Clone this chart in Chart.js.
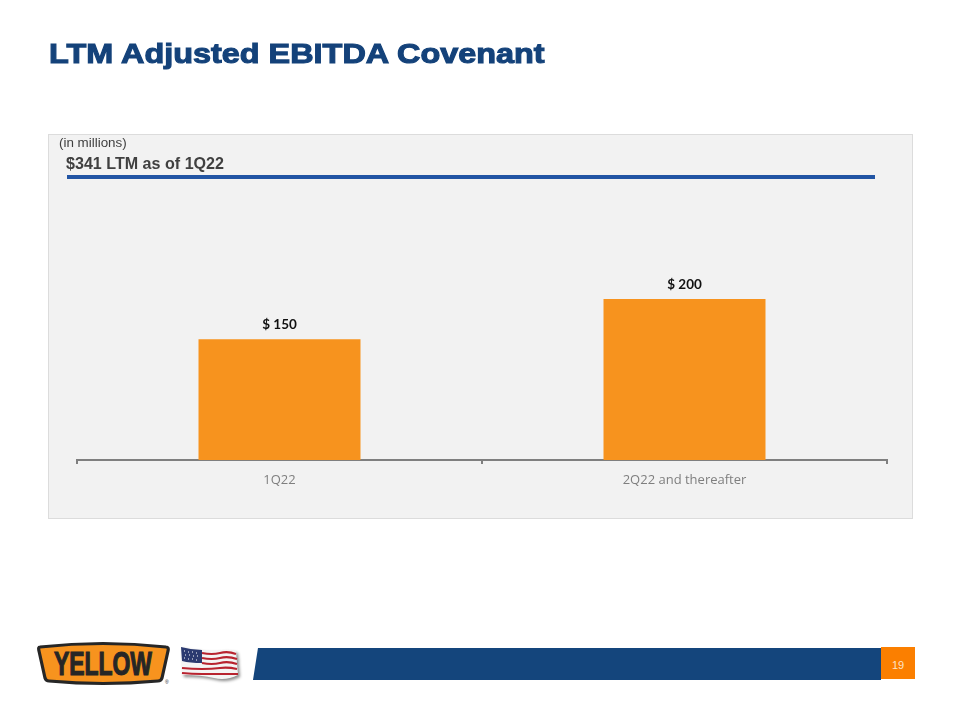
<!DOCTYPE html>
<html>
<head>
<meta charset="utf-8">
<title>LTM Adjusted EBITDA Covenant</title>
<script src="https://cdn.jsdelivr.net/npm/chart.js@4"></script>
<style>
  html, body { margin: 0; padding: 0; background: #fff; }
  #page { position: relative; width: 960px; height: 720px; overflow: hidden; font-family: "Liberation Sans", Arial, sans-serif; }
  #page > * { position: absolute; }
  #title { left: 49px; top: 35px; font-size: 28.5px; line-height: 36px; font-weight: bold; color: #14427a; -webkit-text-stroke: 1.1px #14427a; white-space: nowrap; transform: scaleX(1.137); transform-origin: left top; }
  #panel { left: 48px; top: 134px; width: 863px; height: 383px; background: #f2f2f2; border: 1px solid #dcdcdc; }
  #wrap { left: 48px; top: 135px; width: 865px; height: 384px; }
  #units { left: 59px; top: 135px; font-size: 13.4px; line-height: 16px; color: #404040; }
  #ltm { left: 66px; top: 154px; font-size: 16.1px; line-height: 18px; font-weight: bold; color: #404040; }
  #rule { left: 67px; top: 175px; width: 808px; height: 4px; background: #2255a4; }
  #bar { left: 253px; top: 648px; width: 628px; height: 32px; background: #14457c; clip-path: polygon(5px 0, 100% 0, 100% 100%, 0 100%); }
  #num { left: 881px; top: 647px; width: 34px; height: 32px; background: #fb7f00; color: #fbe3c8; font-size: 11px; line-height: 36px; text-align: center; }
  #logo { left: 36px; top: 639px; }
  #flag { left: 180px; top: 645px; filter: drop-shadow(2px 2px 1.5px rgba(0,0,0,0.45)); }
</style>
</head>
<body>
<div id="page">
  <div id="title">LTM Adjusted EBITDA Covenant</div>
  <div id="panel"></div>
  <div id="wrap"><canvas id="chart" width="865" height="384"></canvas></div>
  <div id="units">(in millions)</div>
  <div id="ltm">$341 LTM as of 1Q22</div>
  <div id="rule"></div>

  <svg id="logo" width="140" height="48" viewBox="0 0 140 48">
    <path d="M4 8 Q67 1 130 8 Q133 8 132 12 L126 39 Q125 42 122 42 Q67 47 13 42 Q10 42 9 39 L3 12 Q2 8 4 8 Z" fill="#f7931e" stroke="#262626" stroke-width="3.2" stroke-linejoin="round"/>
    <text x="67" y="36" text-anchor="middle" textLength="98" lengthAdjust="spacingAndGlyphs" font-family="Liberation Sans" font-weight="bold" font-size="33" fill="#262626" stroke="#262626" stroke-width="1.2">YELLOW</text>
    <text x="129" y="45" font-size="5" fill="#262626">®</text>
  </svg>
  <svg id="flag" width="62" height="40" viewBox="0 0 62 40">
    <path d="M1 2 Q12 5 22 5 Q32 6 40 5 T56 6 L58 30 Q46 36 34 33 T2 30 Z" fill="#f4f4f4"/>
    <path d="M22 8 Q32 10 40 8 T56 9 M22 13 Q32 15 40 13 T57 14 M22 18 Q32 20 40 18 T57 19 M2 23 Q12 24 22 24 T40 23 T57 24 M2 28 Q12 29 22 29 T40 29 T58 29" fill="none" stroke="#b8232f" stroke-width="2.2"/>
    <path d="M1 2 Q12 5 22 5 L22 18 Q10 18 2 16 Z" fill="#2b3a70"/>
    <path d="M4 6 h1 M8 7 h1 M12 7 h1 M16 8 h1 M5 10 h1 M9 10 h1 M13 11 h1 M17 11 h1 M4 13 h1 M8 14 h1 M12 14 h1 M16 15 h1" stroke="#fff" stroke-width="1.2"/>
  </svg>
  <div id="bar"></div>
  <div id="num">19</div>
</div>

<script>
const categories = ['1Q22', '2Q22 and thereafter'];
const covenantValues = [150, 200];
const valueLabels = ['$ 150', '$ 200'];

const barLabels = {
  id: 'barLabels',
  afterDatasetsDraw(chart) {
    const ctx = chart.ctx;
    const bars = chart.getDatasetMeta(0).data;
    ctx.save();
    ctx.font = 'bold 13.5px Lato';
    ctx.fillStyle = '#111';
    ctx.textAlign = 'center';
    ctx.textBaseline = 'alphabetic';
    bars.forEach((bar, i) => {
      ctx.fillText(valueLabels[i], bar.x, bar.y - 10);
    });
    ctx.restore();
  }
};

new Chart(document.getElementById('chart').getContext('2d'), {
  type: 'bar',
  data: {
    labels: categories,
    datasets: [{
      data: covenantValues,
      backgroundColor: '#f7931e',
      categoryPercentage: 0.4,
      barPercentage: 1
    }]
  },
  options: {
    responsive: false,
    animation: false,
    layout: { padding: { left: 29, right: 26, top: 3, bottom: 0 } },
    plugins: { legend: { display: false }, title: { display: false }, tooltip: { enabled: false } },
    scales: {
      y: { display: false, min: 0, max: 400 },
      x: {
        afterFit(scale) { scale.height = 59; },
        border: { color: '#7f7f7f', width: 2 },
        grid: { drawOnChartArea: false, color: '#7f7f7f', tickLength: 4, lineWidth: 2 },
        ticks: { color: '#7f7f7f', font: { family: 'Open Sans', size: 13 }, padding: 8, maxRotation: 0 }
      }
    }
  },
  plugins: [barLabels]
});
</script>
</body>
</html>
